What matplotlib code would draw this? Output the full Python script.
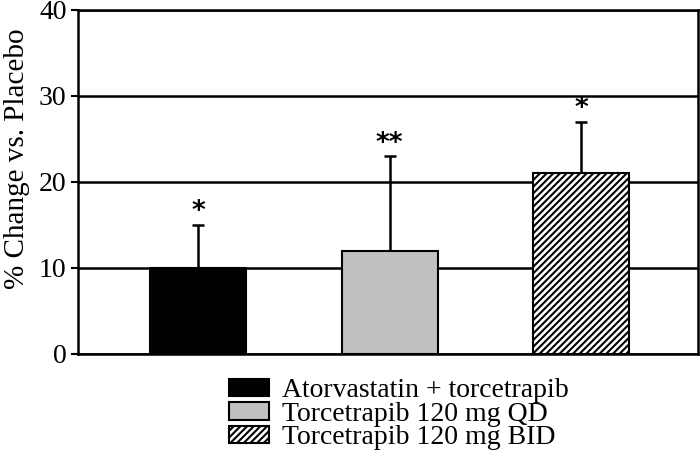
import matplotlib.pyplot as plt
from matplotlib.patches import Patch

plt.rcParams['font.family'] = ['Liberation Serif', 'DejaVu Serif']
plt.rcParams['hatch.linewidth'] = 1.5

# data
groups = ['Atorvastatin + torcetrapib', 'Torcetrapib 120 mg QD', 'Torcetrapib 120 mg BID']
values = [10, 12, 21]
err_up = [5, 11, 6]
stars = ['*', '**', '*']
colors = ['black', '#c0c0c0', 'white']
hatches = ['', '', '/////']

fig = plt.figure(figsize=(7, 4.67), dpi=100)
ax = fig.add_axes([0.111, 0.242, 0.886, 0.737])

x = list(range(len(values)))
ax.grid(axis='y', color='black', linewidth=1.8, zorder=0)
ax.set_axisbelow(True)

bars = ax.bar(x, values, width=0.5, color=colors, edgecolor='black',
              linewidth=1.5, hatch=hatches, zorder=2)
ax.errorbar(x, values, yerr=[[0] * len(values), err_up], fmt='none',
            ecolor='black', elinewidth=1.8, capsize=4, capthick=1.8, zorder=1)

for xi, v, e, s in zip(x, values, err_up, stars):
    ax.annotate(s, (xi, v + e), xytext=(0, 9), textcoords='offset points',
                ha='center', va='center', fontsize=19, fontweight='bold',
                family=['DejaVu Sans'])

ax.set_xlim(-0.63, 2.61)
ax.set_ylim(0, 40)
ax.set_yticks([0, 10, 20, 30, 40])
ax.set_xticks([])
ax.tick_params(axis='y', labelsize=20, length=5, width=1.5, direction='out', pad=3)
ax.set_ylabel('% Change vs. Placebo', fontsize=21, va='center')
ax.yaxis.set_label_coords(-0.098, 0.568)
for side in ['left', 'bottom', 'right', 'top']:
    ax.spines[side].set_linewidth(1.8)

handles = [Patch(facecolor=c, edgecolor='black', hatch=h, linewidth=1.5)
           for c, h in zip(colors, hatches)]
fig.legend(handles, groups, loc='upper left', bbox_to_anchor=(0.311, 0.214),
           frameon=False, fontsize=20, handlelength=1.45, handleheight=0.6,
           labelspacing=-0.05, handletextpad=0.45, borderaxespad=0)

fig.savefig('out.png', dpi=100)
